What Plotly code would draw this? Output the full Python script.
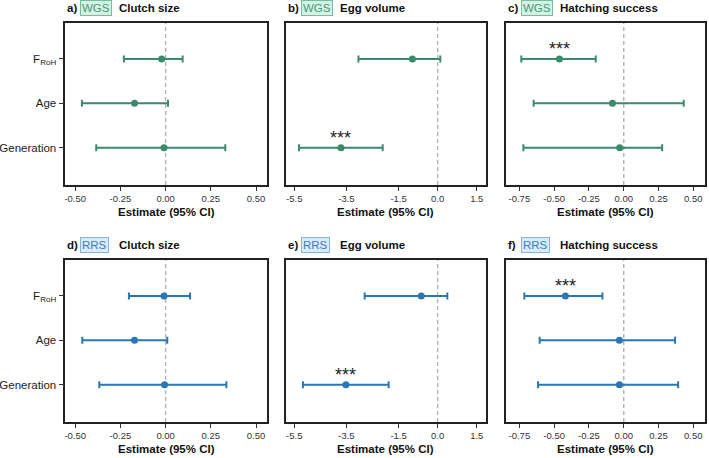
import plotly.graph_objects as go

# ---------------- data ----------------
categories = ["F<sub>RoH</sub>", "Age", "Generation"]

wgs_clutch_est = [-0.022, -0.172, -0.009]
wgs_clutch_lo = [-0.231, -0.463, -0.384]
wgs_clutch_hi = [0.094, 0.013, 0.330]
wgs_clutch_sig = ["", "", ""]

wgs_egg_est = [-0.97, None, -3.71]
wgs_egg_lo = [-3.04, None, -5.32]
wgs_egg_hi = [0.10, None, -2.11]
wgs_egg_sig = ["", "", "***"]

wgs_hatch_est = [-0.462, -0.081, -0.029]
wgs_hatch_lo = [-0.736, -0.647, -0.721]
wgs_hatch_hi = [-0.201, 0.431, 0.276]
wgs_hatch_sig = ["***", "", ""]

rrs_clutch_est = [-0.009, -0.172, -0.006]
rrs_clutch_lo = [-0.203, -0.461, -0.367]
rrs_clutch_hi = [0.135, 0.009, 0.336]
rrs_clutch_sig = ["", "", ""]

rrs_egg_est = [-0.63, None, -3.52]
rrs_egg_lo = [-2.80, None, -5.17]
rrs_egg_hi = [0.37, None, -1.88]
rrs_egg_sig = ["", "", "***"]

rrs_hatch_est = [-0.419, -0.031, -0.031]
rrs_hatch_lo = [-0.714, -0.604, -0.616]
rrs_hatch_hi = [-0.153, 0.369, 0.391]
rrs_hatch_sig = ["***", "", ""]

panel_letters = ["a)", "b)", "c)", "d)", "e)", "f)"]
panel_titles = ["Clutch size", "Egg volume", "Hatching success"]
methods = ["WGS", "RRS"]

clutch_ticks = [-0.5, -0.25, 0.0, 0.25, 0.5]
clutch_ticktext = ["-0.50", "-0.25", "0.00", "0.25", "0.50"]
egg_ticks = [-5.5, -3.5, -1.5, 0.0, 1.5]
egg_ticktext = ["-5.5", "-3.5", "-1.5", "0.0", "1.5"]
hatch_ticks = [-0.75, -0.5, -0.25, 0.0, 0.25, 0.5]
hatch_ticktext = ["-0.75", "-0.50", "-0.25", "0.00", "0.25", "0.50"]

# ---------------- styling ----------------
W, H = 709, 458
FONT = "Liberation Sans, Arial, Helvetica, sans-serif"
col_main = {"WGS": "#3b8a6b", "RRS": "#2a77b3"}
badge_txt = {"WGS": "#3f9c76", "RRS": "#3a7fbf"}
badge_bg = {"WGS": "#d7f0e5", "RRS": "#dce9f6"}
badge_bd = {"WGS": "#72bf9e", "RRS": "#84b3dc"}

panels = [
    ("WGS", wgs_clutch_est, wgs_clutch_lo, wgs_clutch_hi, wgs_clutch_sig, clutch_ticks, clutch_ticktext, [-0.555, 0.559]),
    ("WGS", wgs_egg_est, wgs_egg_lo, wgs_egg_hi, wgs_egg_sig, egg_ticks, egg_ticktext, [-5.83, 1.853]),
    ("WGS", wgs_hatch_est, wgs_hatch_lo, wgs_hatch_hi, wgs_hatch_sig, hatch_ticks, hatch_ticktext, [-0.848, 0.584]),
    ("RRS", rrs_clutch_est, rrs_clutch_lo, rrs_clutch_hi, rrs_clutch_sig, clutch_ticks, clutch_ticktext, [-0.555, 0.559]),
    ("RRS", rrs_egg_est, rrs_egg_lo, rrs_egg_hi, rrs_egg_sig, egg_ticks, egg_ticktext, [-5.83, 1.853]),
    ("RRS", rrs_hatch_est, rrs_hatch_lo, rrs_hatch_hi, rrs_hatch_sig, hatch_ticks, hatch_ticktext, [-0.848, 0.584]),
]

# pixel boxes
col_px = [(65.3, 266.7), (285.7, 486.0), (505.7, 705.0)]
row_px = [(22.5, 185.0), (259.5, 422.0)]

fig = go.Figure()
layout = dict(
    width=W, height=H, margin=dict(l=0, r=0, t=0, b=0, autoexpand=False),
    paper_bgcolor="white", plot_bgcolor="white", showlegend=False,
    font=dict(family=FONT, color="#222"),
)
annotations = []
shapes = []

for i, (meth, est, lo, hi, sig, tv, tt, xr) in enumerate(panels):
    r, c = divmod(i, 3)
    n = i + 1
    xa = "x" if n == 1 else f"x{n}"
    ya = "y" if n == 1 else f"y{n}"
    xkey = "xaxis" if n == 1 else f"xaxis{n}"
    ykey = "yaxis" if n == 1 else f"yaxis{n}"
    x0p, x1p = col_px[c]
    y0p, y1p = row_px[r]
    xd = [x0p / W, x1p / W]
    yd = [1 - y1p / H, 1 - y0p / H]

    cats = [cat for cat, e in zip(categories, est) if e is not None]
    ev = [e for e in est if e is not None]
    lv = [l for l in lo if l is not None]
    hv = [h for h in hi if h is not None]
    fig.add_trace(go.Scatter(
        x=ev, y=cats, xaxis=xa, yaxis=ya, mode="markers",
        marker=dict(color=col_main[meth], size=7),
        error_x=dict(type="data", symmetric=False,
                     array=[h - e for h, e in zip(hv, ev)],
                     arrayminus=[e - l for e, l in zip(ev, lv)],
                     color=col_main[meth], thickness=2, width=3.5),
        hoverinfo="skip",
    ))

    layout[xkey] = dict(
        domain=xd, anchor=ya, range=xr, tickmode="array", tickvals=tv, ticktext=tt,
        automargin=False,
        showgrid=False, zeroline=False, showline=True, mirror=True,
        linecolor="#222", linewidth=1.5, ticks="outside", ticklen=4,
        tickwidth=1, tickcolor="#333", tickfont=dict(size=9.5, color="#333", family=FONT),
    )
    layout[ykey] = dict(
        domain=yd, anchor=xa, type="category", categoryorder="array",
        categoryarray=categories[::-1], range=[-0.84, 2.82], automargin=False,
        showgrid=False, zeroline=False, showline=True, mirror=True,
        linecolor="#222", linewidth=1.5,
        ticks="outside" if c == 0 else "", ticklen=5, tickwidth=1, tickcolor="#333",
        showticklabels=(c == 0), tickfont=dict(size=11.5, color="#222", family=FONT),
    )

    # dashed zero line
    shapes.append(dict(type="line", xref=xa, yref=f"{ya} domain", x0=0, x1=0, y0=0, y1=1,
                       line=dict(color="#b5b5b5", width=1.5, dash="4px,3px"), layer="below"))

    # significance stars
    for cat, e, s in zip(categories, est, sig):
        if s:
            annotations.append(dict(x=e, y=cat, xref=xa, yref=ya, text=s, showarrow=False,
                                    yshift=10, font=dict(size=18, color="#222", family=FONT)))

    # panel titles
    ty = 1 - (y0p - 14.5) / H
    annotations.append(dict(x=x0p / W, y=ty, xref="paper", yref="paper", text=f"<b>{panel_letters[i]}</b>",
                            showarrow=False, xanchor="left", yanchor="middle",
                            font=dict(size=11.5, color="#111", family=FONT)))
    annotations.append(dict(x=(x0p + 15) / W, y=ty, xref="paper", yref="paper", text=meth,
                            showarrow=False, xanchor="left", yanchor="middle",
                            bgcolor=badge_bg[meth], bordercolor=badge_bd[meth], borderwidth=1, borderpad=1,
                            font=dict(size=11.5, color=badge_txt[meth], family=FONT)))
    annotations.append(dict(x=(x0p + 52) / W, y=ty, xref="paper", yref="paper", text=f"<b>{panel_titles[c]}</b>",
                            showarrow=False, xanchor="left", yanchor="middle",
                            font=dict(size=11.5, color="#111", family=FONT)))
    # axis title
    annotations.append(dict(x=(x0p + x1p) / 2 / W, y=1 - (y1p + 27) / H, xref="paper", yref="paper",
                            text="<b>Estimate (95% CI)</b>", showarrow=False, xanchor="center", yanchor="middle",
                            font=dict(size=11.5, color="#111", family=FONT)))

layout["annotations"] = annotations
layout["shapes"] = shapes
fig.update_layout(**layout)
fig.write_html("out.html")
